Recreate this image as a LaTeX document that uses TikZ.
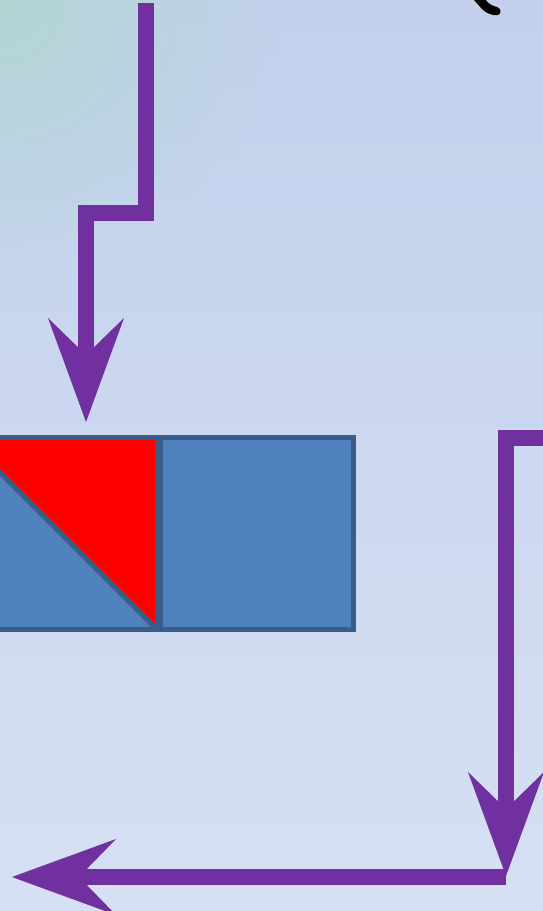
\documentclass[tikz,border=0pt]{standalone}
\usetikzlibrary{arrows.meta,fadings}
\definecolor{flowpurple}{RGB}{112,48,160}
\definecolor{cellblue}{RGB}{79,129,189}
\definecolor{celledge}{RGB}{56,93,138}
\definecolor{bgtop}{RGB}{194,208,236}
\definecolor{bgbottom}{RGB}{214,224,244}
\definecolor{bgteal}{RGB}{178,214,212}
\tikzfading[name=cornerglow, inner color=transparent!0, outer color=transparent!100]

\begin{document}
\begin{tikzpicture}[x=1pt,y=-1pt,
   flow/.style={draw=flowpurple,line width=16pt,
     -{Stealth[length=104pt,width=76pt,inset=37pt,line width=0pt]}},
   cell/.style={rectangle,fill=cellblue,draw=celledge,line width=5pt,
     minimum size=192pt,inner sep=0pt,outer sep=0pt}]
   \useasboundingbox (0,0) rectangle (543,911);
   % background
   \shade[top color=bgtop,bottom color=bgbottom] (0,0) rectangle (543,911);
   \fill[bgteal,path fading=cornerglow] (0,0) circle(280);
   % the two cells
   \node[cell,path picture={
      \fill[red] (path picture bounding box.north west) -- (path picture bounding box.north east)
         -- (path picture bounding box.south east) -- cycle;
      \draw[celledge,line width=5pt] (path picture bounding box.north west) -- (path picture bounding box.south east);
     }] (leftcell) at (61pt,533.5) {};
   \node[cell,minimum width=193pt] (rightcell) at (256.5,533.5) {};
   % arrows
   \coordinate (topstart) at (146,3);
   \coordinate (toptip) at (86,422);
   \draw[flow] (topstart) -- ++(0,209.5) -| (toptip);
   \coordinate (rightstart) at (560,438);
   \coordinate (righttip) at (506,876);
   \draw[flow] (rightstart) -| (righttip);
   \coordinate (bottomstart) at (506,877);
   \coordinate (bottomtip) at (12,877);
   \draw[flow] (bottomstart) -- (bottomtip);
   % stroke at the top edge
   \fill (473,-1) -- (485,-1) .. controls (488,4) and (493,6) .. (497,7)
      .. controls (501,8) and (502,14) .. (498,15)
      .. controls (492,16) and (486,13) .. (482,9) -- cycle;
\end{tikzpicture}
\end{document}
